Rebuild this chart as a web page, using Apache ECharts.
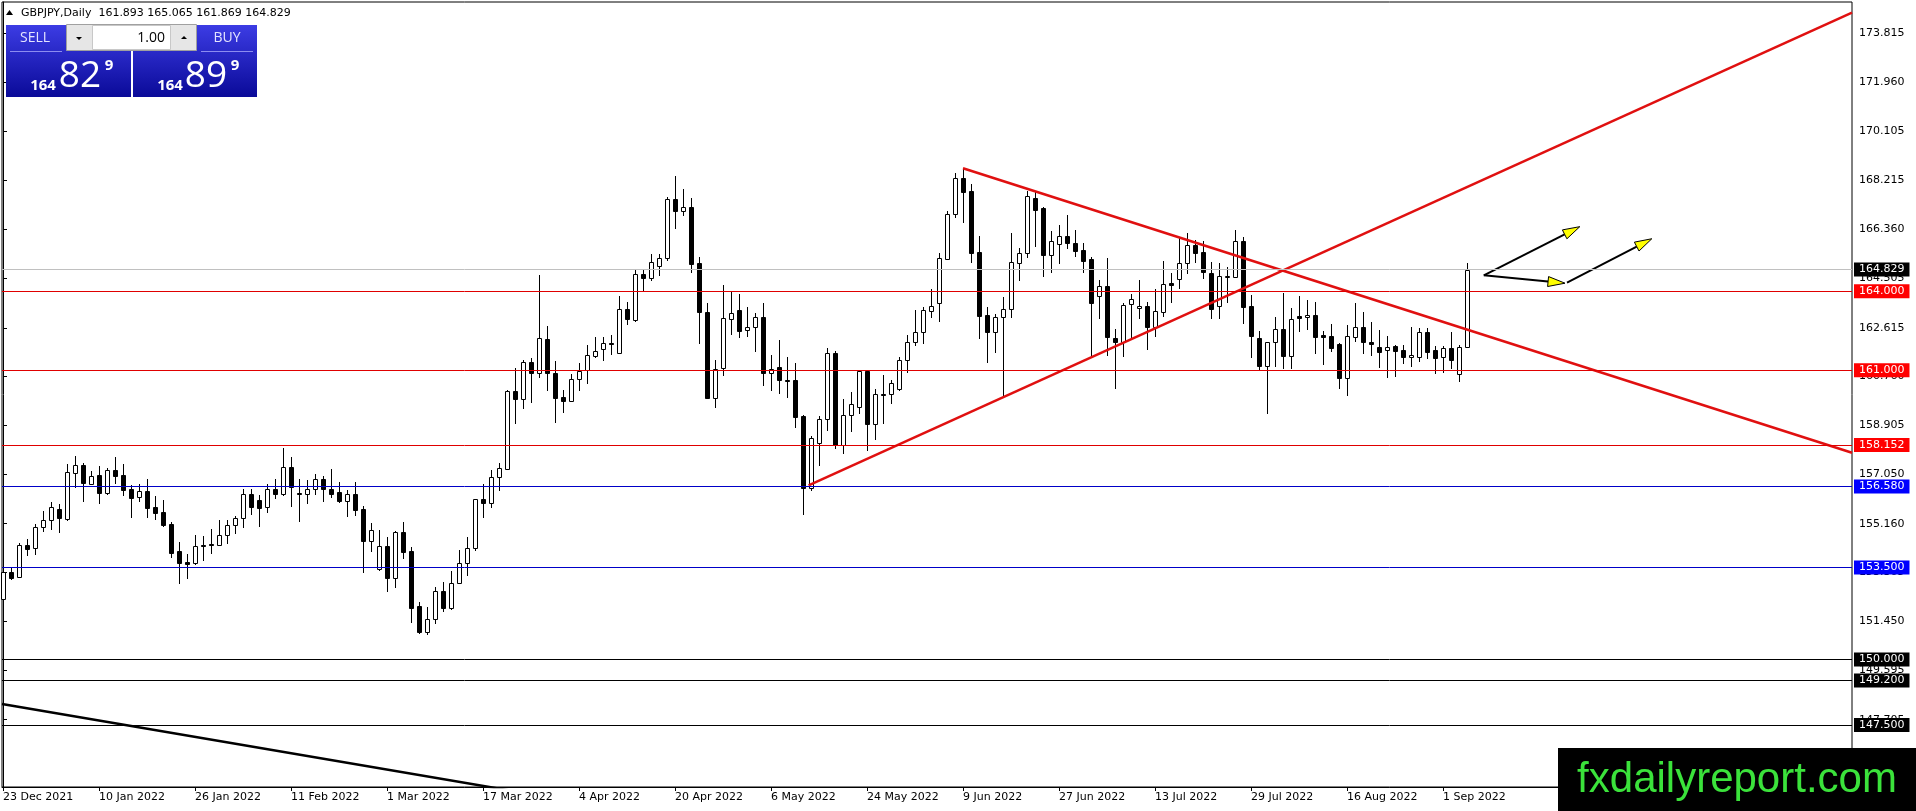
<!DOCTYPE html>
<html>
<head>
<meta charset="utf-8">
<title>GBPJPY Daily</title>
<script src="https://cdn.jsdelivr.net/npm/echarts@6/dist/echarts.min.js"></script>
<style>
  html, body { margin: 0; padding: 0; background: #fff; }
  #chart { width: 1916px; height: 811px; }
</style>
</head>
<body>
<div id="chart"></div>
<script>
// daily bars from 23 Dec 2021 (index 0) to 6 Sep 2022 (index 183), weekdays only
const opens = [
  152.28,153.33,153.14,154.37,154.22,155.02,155.30,155.73,155.35,157.10,
  157.39,156.69,157.00,156.34,157.19,157.01,156.47,156.16,156.40,155.79,
  155.60,155.15,154.12,153.69,153.68,154.34,154.39,154.37,154.75,155.10,
  155.36,156.31,156.06,155.78,156.47,156.28,157.30,156.33,156.28,156.47,
  156.88,156.47,156.35,156.03,156.28,155.71,154.51,153.42,154.31,153.08,
  154.84,154.12,152.03,151.05,151.52,152.61,151.94,152.92,153.68,154.22,
  156.09,155.93,156.93,157.25,160.21,159.89,161.30,160.88,162.17,160.88,
  159.97,159.84,160.65,161.01,161.55,161.79,162.03,161.67,163.32,162.91,
  164.65,164.49,164.98,165.28,167.50,167.07,167.22,165.07,163.23,159.96,
  161.07,162.96,163.29,162.52,162.63,163.04,160.88,161.11,160.64,160.63,
  159.26,156.51,158.24,159.13,161.64,158.15,159.28,159.61,160.97,158.94,
  160.09,160.09,160.27,161.39,162.06,162.44,163.26,163.54,165.23,166.93,
  168.30,167.82,165.48,163.10,162.47,163.01,163.32,165.07,165.47,167.54,
  167.16,165.39,165.79,166.12,165.83,165.57,165.22,163.82,164.20,162.21,
  162.09,163.51,163.35,163.44,162.66,163.23,164.30,164.46,165.07,165.76,
  165.51,164.68,163.44,164.55,164.56,165.93,163.44,162.21,161.17,162.06,
  162.55,161.55,163.06,163.01,163.10,162.34,162.30,162.00,160.69,162.28,
  162.63,162.06,161.90,161.77,161.92,161.77,161.49,161.49,162.44,161.77,
  161.49,161.86,160.86,161.893
];
const highs = [
  153.68,153.52,154.41,154.58,155.15,155.64,156.00,155.91,157.43,157.73,
  157.48,157.15,157.35,157.29,157.68,157.43,156.63,156.69,156.88,156.21,
  156.06,155.24,154.46,153.99,154.72,154.69,154.96,155.30,155.30,155.45,
  156.47,156.47,156.25,156.69,156.85,158.03,157.68,156.85,156.82,157.07,
  156.97,157.26,156.73,156.44,156.73,155.83,155.17,154.94,154.64,154.89,
  155.22,154.29,152.19,151.98,152.76,152.95,153.36,154.16,154.64,156.12,
  156.67,157.20,157.48,160.25,161.07,161.39,161.45,164.62,162.68,161.35,
  160.25,160.86,161.29,161.96,162.25,162.28,162.34,163.82,163.58,164.81,
  164.84,165.42,165.42,167.58,168.39,167.88,167.54,165.29,163.57,161.39,
  164.24,163.99,163.90,163.42,163.16,163.54,161.58,162.15,161.51,161.29,
  159.30,158.50,159.26,161.83,161.74,159.89,160.18,161.01,161.01,160.27,
  160.82,160.63,161.51,162.34,163.29,163.42,164.08,165.45,167.07,168.49,
  168.68,168.08,166.10,163.42,163.14,163.80,166.23,165.64,167.83,167.79,
  167.22,166.29,166.52,166.90,166.33,165.83,165.29,164.43,165.26,162.55,
  163.57,163.89,164.43,163.61,164.08,165.17,164.68,166.05,166.23,165.95,
  165.93,165.13,165.07,164.94,166.33,166.05,163.86,162.49,162.09,163.01,
  163.92,163.35,163.82,163.67,163.61,162.49,162.76,162.05,162.72,163.54,
  163.23,162.85,162.53,162.30,161.95,161.96,162.66,162.59,162.59,161.92,
  161.92,162.44,161.96,165.065
];
const lows = [
  152.23,153.06,153.12,153.97,154.01,154.89,154.96,154.86,155.30,156.54,
  156.03,156.67,155.93,156.31,156.72,156.26,155.43,156.03,155.43,155.34,
  155.08,153.88,152.89,153.08,153.63,153.78,154.06,154.35,154.44,154.79,
  155.02,155.53,155.07,155.62,156.15,156.25,155.83,155.27,155.93,156.31,
  156.03,156.19,155.97,155.46,155.49,153.33,154.13,153.40,152.61,152.76,
  153.84,151.43,150.99,150.96,151.39,151.85,151.90,152.89,153.21,154.18,
  155.43,155.81,156.44,157.23,159.00,159.55,159.80,160.73,160.25,159.02,
  159.40,159.83,160.25,160.50,161.49,161.39,161.60,161.64,162.74,162.88,
  164.03,164.43,164.62,165.19,166.40,166.90,164.75,162.02,159.93,159.61,
  160.82,162.36,162.25,162.30,161.74,160.44,160.25,160.12,159.99,158.83,
  155.53,156.44,157.39,158.73,158.03,157.84,158.70,159.36,157.96,158.37,
  158.98,159.77,160.25,160.92,161.96,162.05,163.04,162.88,165.22,166.84,
  166.65,165.13,162.21,161.30,161.71,159.97,163.04,164.43,165.32,165.72,
  164.58,164.75,165.09,165.66,165.34,164.75,161.51,162.97,161.58,160.34,
  161.54,162.21,163.00,161.79,162.30,163.06,163.61,164.14,164.68,165.13,
  164.49,162.97,162.97,163.60,164.53,162.81,161.49,161.01,159.38,161.17,
  161.07,161.07,162.50,162.55,161.64,161.22,161.74,160.31,160.06,162.12,
  161.64,161.58,161.13,160.75,160.78,161.29,161.16,161.36,161.45,160.88,
  160.94,161.07,160.60,161.869
];
const closes = [
  153.33,153.10,154.37,154.21,155.02,155.30,155.78,155.39,157.11,157.39,
  156.72,156.99,156.34,157.19,156.99,156.44,156.15,156.40,155.77,155.58,
  155.11,154.06,153.65,153.64,154.31,154.31,154.34,154.75,155.10,155.36,
  156.31,155.81,155.77,156.47,156.28,157.30,156.54,156.28,156.47,156.88,
  156.47,156.28,156.02,156.28,155.68,154.51,154.92,154.31,153.08,154.84,
  154.09,151.94,151.05,151.52,152.61,151.94,152.92,153.65,154.22,156.09,
  155.93,156.95,157.27,160.21,159.89,161.30,160.91,162.21,160.88,159.93,
  159.84,160.65,160.98,161.57,161.74,162.02,161.98,163.32,162.93,164.65,
  164.49,165.13,165.28,167.50,167.07,167.22,165.03,163.23,159.96,161.03,
  162.97,163.16,162.50,162.63,163.01,160.88,161.03,160.63,160.60,159.21,
  156.51,158.41,159.13,161.64,158.15,159.28,159.70,160.97,158.94,160.08,
  160.07,160.50,161.39,162.06,162.44,163.28,163.44,165.26,166.94,168.30,
  167.79,165.47,163.06,162.47,163.01,163.32,165.13,165.47,167.63,167.09,
  165.38,165.93,166.12,165.83,165.55,165.17,163.57,164.20,162.25,162.09,
  163.48,163.70,163.44,162.66,163.25,164.27,164.25,165.07,165.76,165.47,
  164.75,163.32,164.58,164.60,165.93,163.42,162.30,161.17,162.06,162.55,
  161.55,162.95,163.00,163.10,162.28,162.28,161.86,160.69,162.30,162.63,
  162.06,161.98,161.71,161.90,161.74,161.49,161.58,162.44,161.71,161.45,
  161.86,161.39,161.87,164.829
];

// axis ticks
const xTickIdx = [0, 12, 24, 36, 48, 60, 72, 84, 96, 108, 120, 132, 144, 156, 168, 180];
const xTickLabels = ['23 Dec 2021', '10 Jan 2022', '26 Jan 2022', '11 Feb 2022', '1 Mar 2022', '17 Mar 2022',
  '4 Apr 2022', '20 Apr 2022', '6 May 2022', '24 May 2022', '9 Jun 2022', '27 Jun 2022',
  '13 Jul 2022', '29 Jul 2022', '16 Aug 2022', '1 Sep 2022'];
const yTicks = [173.815, 171.960, 170.105, 168.215, 166.360, 164.505, 162.615, 160.760,
  158.905, 157.050, 155.160, 153.305, 151.450, 149.595, 147.705];

// horizontal levels
const levelPrices = [164.829, 164.000, 161.000, 158.152, 156.580, 153.500, 150.000, 149.200, 147.500];
const levelKinds = ['bid', 'red', 'red', 'red', 'blue', 'blue', 'black', 'black', 'black'];

// trend lines [barIndex, price]
const upTrend = [[100.7, 156.62], [231.125, 174.60]];
const downTrend = [[120, 168.68], [231.125, 157.86]];
const oldTrend = [[-0.125, 148.30], [70, 144.67]];

// arrows [fromIndex, fromPrice, toIndex, toPrice]
const arrows = [
  [185.1, 164.61, 197.1, 166.46],
  [185.1, 164.61, 195.25, 164.31],
  [195.5, 164.33, 206.1, 166.00]
];

const AXIS_FONT = 'DejaVu Sans';
const lineColor = { bid: '#c0c0c0', red: '#e00000', blue: '#0000c8', black: '#000000' };
const boxColor = { bid: '#000000', red: '#ff0000', blue: '#0000ff', black: '#000000' };

const chart = echarts.init(document.getElementById('chart'));

// 1. candles: MT4 style, white up bodies, black down bodies
function renderCandle(params, api) {
  const k = api.value(0);
  const o = api.value(1), c = api.value(2), l = api.value(3), h = api.value(4);
  const pO = api.coord([k, o]), pC = api.coord([k, c]);
  const pH = api.coord([k, h]), pL = api.coord([k, l]);
  const cx = Math.round(pO[0]);
  const top = Math.round(Math.min(pO[1], pC[1]));
  const bot = Math.round(Math.max(pO[1], pC[1]));
  return {
    type: 'group',
    children: [
      { type: 'line', shape: { x1: cx + 0.5, y1: Math.round(pH[1]), x2: cx + 0.5, y2: Math.round(pL[1]) + 1 },
        style: { stroke: '#000', lineWidth: 1 } },
      { type: 'rect', shape: { x: cx - 1.5, y: top + 0.5, width: 4, height: Math.max(bot - top, 0) },
        style: { fill: c >= o ? '#fff' : '#000', stroke: '#000', lineWidth: 1 } }
    ]
  };
}

// 2. arrows with yellow heads
function renderArrow(params, api) {
  const p1 = api.coord([api.value(0), api.value(1)]);
  const p2 = api.coord([api.value(2), api.value(3)]);
  const dx = p2[0] - p1[0], dy = p2[1] - p1[1];
  const len = Math.sqrt(dx * dx + dy * dy);
  const ux = dx / len, uy = dy / len;
  const hl = 17, hw = 5;
  const bx = p2[0] - ux * hl, by = p2[1] - uy * hl;
  return {
    type: 'group',
    children: [
      { type: 'line', shape: { x1: p1[0], y1: p1[1], x2: bx, y2: by }, style: { stroke: '#000', lineWidth: 2 } },
      { type: 'polygon', shape: { points: [[p2[0], p2[1]], [bx - uy * hw, by + ux * hw], [bx + uy * hw, by - ux * hw]] },
        style: { fill: '#ffff00', stroke: '#000', lineWidth: 1 } }
    ]
  };
}

const candleRows = opens.map((o, i) => [i, o, closes[i], lows[i], highs[i]]);

const blueGrad = () => new echarts.graphic.LinearGradient(0, 0, 0, 1, [
  { offset: 0, color: '#3c3ce4' }, { offset: 1, color: '#0a0a98' }
]);

const option = {
  animation: false,
  backgroundColor: '#fff',
  grid: { left: 2, right: 64, top: 2, bottom: 24, show: true, borderColor: '#000', borderWidth: 1, backgroundColor: '#fff' },
  xAxis: {
    type: 'value', min: -0.125, max: 231.125,
    axisLine: { show: true, lineStyle: { color: '#000' } },
    axisTick: { show: true, customValues: xTickIdx, length: 4, lineStyle: { color: '#000' } },
    axisLabel: {
      customValues: xTickIdx, margin: 5, align: 'left', color: '#000',
      fontFamily: AXIS_FONT, fontSize: 11,
      formatter: v => xTickLabels[xTickIdx.indexOf(Math.round(v))] || ''
    },
    splitLine: { show: false }
  },
  yAxis: {
    type: 'value', position: 'right', min: 145.146, max: 175.006, scale: true,
    axisLine: { show: true, lineStyle: { color: '#000' } },
    axisTick: { show: true, customValues: yTicks, length: 4, lineStyle: { color: '#000' } },
    axisLabel: {
      customValues: yTicks, margin: 7, color: '#000',
      fontFamily: AXIS_FONT, fontSize: 11,
      formatter: v => v.toFixed(3)
    },
    splitLine: { show: false }
  },
  series: [
    {
      name: 'levels', type: 'line', data: [], z: 1,
      markLine: {
        silent: true, symbol: 'none', animation: false, precision: 3,
        data: levelPrices.map((p, i) => ({
          yAxis: p,
          lineStyle: { color: lineColor[levelKinds[i]], width: 1, type: 'solid' },
          label: { backgroundColor: boxColor[levelKinds[i]], formatter: p.toFixed(3) }
        })),
        label: {
          show: true, position: 'end', distance: 2, color: '#fff',
          fontFamily: AXIS_FONT, fontSize: 11, padding: [2, 5, 1, 5]
        }
      }
    },
    {
      name: 'GBPJPY', type: 'custom', z: 2,
      renderItem: renderCandle,
      encode: { x: 0, y: [1, 2, 3, 4] },
      data: candleRows
    },
    { name: 'up', type: 'line', data: upTrend, z: 3, symbol: 'none', lineStyle: { color: '#e01010', width: 2.5 } },
    { name: 'down', type: 'line', data: downTrend, z: 3, symbol: 'none', lineStyle: { color: '#e01010', width: 2.5 } },
    { name: 'old', type: 'line', data: oldTrend, z: 3, symbol: 'none', lineStyle: { color: '#000', width: 2.5 } },
    {
      name: 'arrows', type: 'custom', z: 4,
      renderItem: renderArrow,
      encode: { x: [0, 2], y: [1, 3] },
      data: arrows
    }
  ],
  graphic: [
    // header
    { type: 'polygon', z: 100, shape: { points: [[6, 15], [13, 15], [9.5, 10]] }, style: { fill: '#000' } },
    { type: 'text', z: 100, x: 21, y: 13,
      style: { text: 'GBPJPY,Daily  161.893 165.065 161.869 164.829', fill: '#000', font: '11px "DejaVu Sans"', verticalAlign: 'middle' } },
    // one click panel
    { type: 'rect', z: 100, shape: { x: 6, y: 25, width: 125, height: 72 }, style: { fill: blueGrad() } },
    { type: 'rect', z: 100, shape: { x: 133, y: 25, width: 124, height: 72 }, style: { fill: blueGrad() } },
    { type: 'rect', z: 101, shape: { x: 66.5, y: 24.5, width: 130, height: 26 }, style: { fill: '#e6e6e6', stroke: '#a0a0a0', lineWidth: 1 } },
    { type: 'rect', z: 101, shape: { x: 92.5, y: 25.5, width: 78, height: 24 }, style: { fill: '#fff', stroke: '#c8c8c8', lineWidth: 1 } },
    { type: 'polygon', z: 102, shape: { points: [[76, 37], [82, 37], [79, 40]] }, style: { fill: '#000' } },
    { type: 'polygon', z: 102, shape: { points: [[181, 39], [187, 39], [184, 36]] }, style: { fill: '#000' } },
    { type: 'text', z: 102, x: 165, y: 38, style: { text: '1.00', fill: '#000', font: '14px "Open Sans"', align: 'right', verticalAlign: 'middle' } },
    { type: 'text', z: 102, x: 35, y: 38, style: { text: 'SELL', fill: '#e4e4ff', font: '14px "Open Sans"', align: 'center', verticalAlign: 'middle' } },
    { type: 'text', z: 102, x: 227, y: 38, style: { text: 'BUY', fill: '#e4e4ff', font: '14px "Open Sans"', align: 'center', verticalAlign: 'middle' } },
    { type: 'line', z: 102, shape: { x1: 10, y1: 51.5, x2: 62, y2: 51.5 }, style: { stroke: '#8c8cf0', lineWidth: 1 } },
    { type: 'line', z: 102, shape: { x1: 201, y1: 51.5, x2: 253, y2: 51.5 }, style: { stroke: '#8c8cf0', lineWidth: 1 } },
    { type: 'text', z: 102, x: 43, y: 86, style: { text: '164', fill: '#fff', font: 'bold 15px "Open Sans"', align: 'center', verticalAlign: 'middle' } },
    { type: 'text', z: 102, x: 80, y: 76, style: { text: '82', fill: '#fff', font: '37px "Open Sans"', align: 'center', verticalAlign: 'middle' } },
    { type: 'text', z: 102, x: 109, y: 66, style: { text: '9', fill: '#fff', font: 'bold 15px "Open Sans"', align: 'center', verticalAlign: 'middle' } },
    { type: 'text', z: 102, x: 170, y: 86, style: { text: '164', fill: '#fff', font: 'bold 15px "Open Sans"', align: 'center', verticalAlign: 'middle' } },
    { type: 'text', z: 102, x: 206, y: 76, style: { text: '89', fill: '#fff', font: '37px "Open Sans"', align: 'center', verticalAlign: 'middle' } },
    { type: 'text', z: 102, x: 235, y: 66, style: { text: '9', fill: '#fff', font: 'bold 15px "Open Sans"', align: 'center', verticalAlign: 'middle' } },
    // watermark
    { type: 'rect', z: 100, shape: { x: 1558, y: 748, width: 358, height: 63 }, style: { fill: '#000' } },
    { type: 'text', z: 101, x: 1737, y: 780, style: { text: 'fxdailyreport.com', fill: '#3be23b', font: '42px "Liberation Sans"', align: 'center', verticalAlign: 'middle' } }
  ]
};

option && chart.setOption(option);
</script>
</body>
</html>
